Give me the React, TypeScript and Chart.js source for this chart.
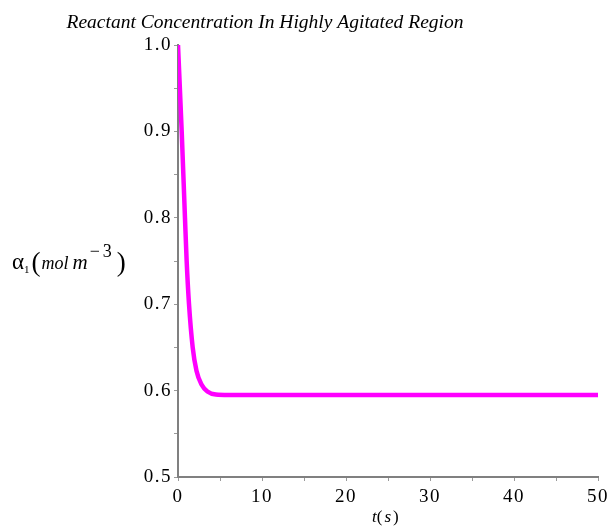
import React, { useEffect, useRef } from "react";
import { Chart, registerables } from "chart.js";

Chart.register(...registerables);

const titleText = "Reactant Concentration In Highly Agitated Region";
const timeValues = [0, 0.44, 0.83, 1.03, 1.31, 1.75, 2.2, 2.8, 3.5, 4.5, 6, 10, 20, 30, 40, 50];
const alphaValues = [1.0, 0.9, 0.8, 0.75, 0.7, 0.65, 0.623, 0.607, 0.599, 0.5955, 0.595, 0.595, 0.595, 0.595, 0.595, 0.595];
const xMajorTicks = [0, 10, 20, 30, 40, 50];
const yMajorTicks = [0.5, 0.6, 0.7, 0.8, 0.9, 1.0];

const SERIF = '"Liberation Serif", "DejaVu Serif", serif';

const spacingPlugin = {
  id: "tickSpacing",
  beforeDraw(chart: any) {
    (chart.ctx as any).letterSpacing = "1.5px";
  },
  beforeDatasetsDraw(chart: any) {
    (chart.ctx as any).letterSpacing = "0px";
  },
};

const textPlugin = {
  id: "customText",
  afterDraw(chart: any) {
    const ctx = chart.ctx as CanvasRenderingContext2D;
    ctx.save();
    (ctx as any).letterSpacing = "0px";
    ctx.fillStyle = "#000";
    ctx.textBaseline = "alphabetic";
    // title
    ctx.font = `italic 19.5px ${SERIF}`;
    ctx.textAlign = "center";
    ctx.fillText(titleText, 265, 28);

    // x axis label t(s)
    ctx.textAlign = "left";
    let x = 372;
    const yb = 522;
    ctx.font = `italic 17px ${SERIF}`;
    ctx.fillText("t", x, yb);
    x += ctx.measureText("t").width;
    ctx.font = `17px ${SERIF}`;
    ctx.fillText("(", x, yb);
    x += ctx.measureText("(").width + 2;
    ctx.font = `italic 17px ${SERIF}`;
    ctx.fillText("s", x, yb);
    x += ctx.measureText("s").width + 2;
    ctx.font = `17px ${SERIF}`;
    ctx.fillText(")", x, yb);

    // y axis label α1(mol m^-3)
    x = 12;
    const ya = 269;
    ctx.font = `23px ${SERIF}`;
    ctx.fillText("α", x, ya);
    x += ctx.measureText("α").width;
    ctx.font = `11px ${SERIF}`;
    ctx.fillText("1", x, ya + 4);
    x += ctx.measureText("1").width + 2;
    ctx.font = `27px ${SERIF}`;
    ctx.fillText("(", x, ya + 2);
    x += ctx.measureText("(").width + 1;
    ctx.font = `italic 18px ${SERIF}`;
    ctx.fillText("mol", x, ya);
    x += ctx.measureText("mol").width + 4;
    ctx.font = `italic 21px ${SERIF}`;
    ctx.fillText("m", x, ya);
    x += ctx.measureText("m").width + 2;
    ctx.font = `18px ${SERIF}`;
    ctx.fillText("−", x, ya - 12);
    x += ctx.measureText("−").width + 3;
    ctx.fillText("3", x, ya - 12);
    x += ctx.measureText("3").width + 5;
    ctx.font = `27px ${SERIF}`;
    ctx.fillText(")", x, ya + 2);
    ctx.restore();
  },
};

export default function App() {
  const canvasRef = useRef<HTMLCanvasElement | null>(null);

  useEffect(() => {
    document.body.style.margin = "0";
    const canvas = canvasRef.current;
    if (!canvas) return;
    const data = timeValues.map((t, i) => ({ x: t, y: alphaValues[i] }));
    const chart = new Chart(canvas, {
      type: "line",
      data: {
        datasets: [
          {
            data,
            borderColor: "#ff00ff",
            borderWidth: 4.5,
            pointRadius: 0,
            cubicInterpolationMode: "monotone",
            fill: false,
          },
        ],
      },
      options: {
        animation: false,
        responsive: false,
        maintainAspectRatio: false,
        layout: { padding: { top: 45, right: 15, left: 0, bottom: 0 } },
        plugins: { legend: { display: false }, title: { display: false }, tooltip: { enabled: false } },
        scales: {
          x: {
            type: "linear",
            min: 0,
            max: 50,
            afterFit(scale: any) {
              scale.height = 49;
            },
            border: { color: "#808080", width: 2 },
            grid: { drawOnChartArea: false, drawTicks: true, tickLength: 4, color: "#9a9a9a" },
            ticks: {
              stepSize: 5,
              autoSkip: false,
              maxRotation: 0,
              padding: 5,
              color: "#000",
              font: { family: SERIF, size: 19 },
              callback: (v: any) => (xMajorTicks.includes(Number(v)) ? String(v) : ""),
            },
          },
          y: {
            type: "linear",
            min: 0.5,
            max: 1.0,
            afterFit(scale: any) {
              scale.width = 178;
            },
            border: { color: "#808080", width: 2 },
            grid: { drawOnChartArea: false, drawTicks: true, tickLength: 4, color: "#9a9a9a" },
            ticks: {
              stepSize: 0.05,
              autoSkip: false,
              padding: 2,
              color: "#000",
              font: { family: SERIF, size: 19 },
              callback: (v: any) => {
                const n = Math.round(Number(v) * 100) / 100;
                return yMajorTicks.some((m) => Math.abs(m - n) < 1e-6) ? n.toFixed(1) : "";
              },
            },
          },
        },
      },
      plugins: [spacingPlugin, textPlugin],
    });
    return () => chart.destroy();
  }, []);

  return (
    <div style={{ width: 613, height: 526 }}>
      <canvas ref={canvasRef} width={613} height={526} style={{ display: "block" }} />
    </div>
  );
}
